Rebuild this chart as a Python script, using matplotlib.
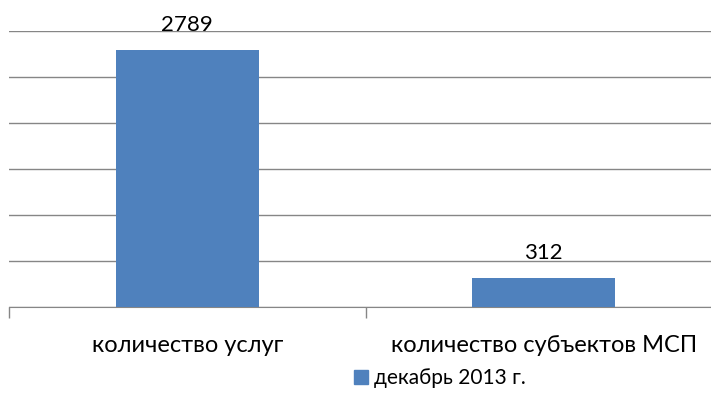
import matplotlib.pyplot as plt
import matplotlib.patches as mpatches

categories = ['количество услуг', 'количество субъектов МСП']
values = [2789, 312]
series_name = 'декабрь 2013 г.'

plt.rcParams['font.family'] = ['Lato', 'DejaVu Sans']

fig = plt.figure(figsize=(7.11, 4.08), dpi=100)
# plot area runs a little past the right edge, as in the cropped original
ax = fig.add_axes([9/711, 101/408, 713/711, 276/408])

bar_color = '#4f81bd'
grid_color = '#868686'

x = list(range(len(categories)))
bars = ax.bar(x, values, width=0.4, color=bar_color, zorder=3)
for b, v in zip(bars, values):
    ax.annotate(str(v), (b.get_x() + b.get_width()/2, v), xytext=(0, 11),
                textcoords='offset points', ha='center', va='bottom',
                fontsize=16, color='black', zorder=4)

ax.set_xlim(-0.5, len(categories) - 0.5)
ax.set_ylim(0, 3000)
ax.set_yticks(range(0, 3001, 500))
ax.yaxis.grid(True, color=grid_color, linewidth=1)
ax.tick_params(axis='y', left=False, labelleft=False)
ax.set_axisbelow(True)

ax.set_xticks(x)
ax.set_xticklabels(categories, fontsize=17)
ax.tick_params(axis='x', which='major', length=0, pad=20)
ax.set_xticks([i - 0.5 for i in range(len(categories) + 1)], minor=True)
ax.tick_params(axis='x', which='minor', length=8, color=grid_color, width=1)

for s in ['top', 'right', 'left']:
    ax.spines[s].set_visible(False)
ax.spines['bottom'].set_color(grid_color)

handle = mpatches.Patch(color=bar_color, label=series_name)
fig.legend(handles=[handle], loc='center', bbox_to_anchor=(440/711, 1 - 378/408),
           frameon=False, fontsize=15, handlelength=0.65, handleheight=0.65,
           handletextpad=0.3, borderpad=0)

fig.savefig('out.png', dpi=100)
